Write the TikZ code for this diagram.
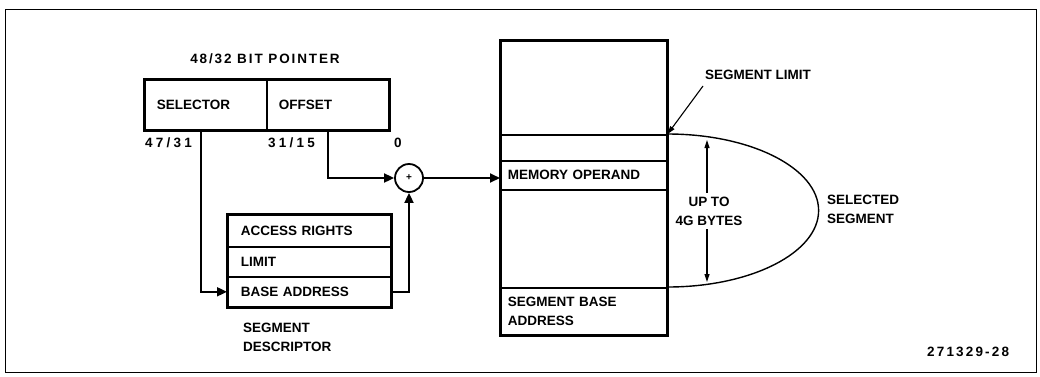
\documentclass[tikz,border=0pt]{standalone}
\usepackage{fontspec}
\setmainfont{Liberation Sans}
\usetikzlibrary{arrows.meta}
\begin{document}
\begin{tikzpicture}[x=1pt,y=-1pt,
  every node/.style={font=\bfseries\fontsize{13.5}{19}\selectfont},
  cell/.style={draw, line width=1.6pt, anchor=north west, inner ysep=0pt, align=left},
  outline/.style={line width=3pt},
  conn/.style={line width=1.8pt, -{Triangle[length=10pt,width=9pt]}},
  thinarrow/.style={line width=1.1pt, -{Triangle[length=8pt,width=5pt]}},
  lbl/.style={inner sep=0pt, anchor=west},
  wide/.style={font=\bfseries\fontsize{13.5}{19}\selectfont\addfontfeature{LetterSpace=#1}}]
\useasboundingbox (0,0) rectangle (1040,376);
\draw[line width=1pt] (5,9) rectangle (1036,372);

% pointer
\node[lbl, anchor=center, wide=14] (ptrlbl) at (265,59) {48/32 BIT POINTER};
\node[cell, minimum height=50pt, text width=98pt, inner xsep=12pt] (sel) at (144,79) {SELECTOR};
\node[cell, minimum height=50pt, text width=98pt, inner xsep=12pt] (off) at (266,79) {OFFSET};
\draw[outline] (sel.north west) rectangle (off.south east);
\node[lbl, wide=24] (b47) at (145,143) {47/31};
\node[lbl, wide=24] (b31) at (268,143) {31/15};
\node[lbl] (b0) at (394,143) {0};

% descriptor
\node[cell, minimum height=32pt, text width=137pt, inner xsep=13pt] (acc) at (227,214) {ACCESS RIGHTS};
\node[cell, minimum height=30pt, text width=137pt, inner xsep=13pt] (lim) at (227,246) {LIMIT};
\node[cell, minimum height=30pt, text width=137pt, inner xsep=13pt] (base) at (227,276) {BASE ADDRESS};
\draw[outline] (acc.north west) rectangle (base.south east);
\node[lbl, align=left, anchor=west] (desclbl) at (243,337) {SEGMENT\\DESCRIPTOR};

% adder
\node[draw, circle, line width=1.8pt, minimum size=28pt, inner sep=0pt, font=\bfseries\fontsize{10}{10}\selectfont] (plus) at (409,178) {+};

% memory
\node[cell, minimum height=94pt, text width=152pt, inner xsep=7pt] (mtop) at (500,40) {};
\node[cell, minimum height=26pt, text width=152pt, inner xsep=7pt] (mlim) at (500,134) {};
\node[cell, minimum height=29pt, text width=152pt, inner xsep=7pt] (mop) at (500,160) {MEMORY OPERAND};
\node[cell, minimum height=98pt, text width=152pt, inner xsep=7pt] (mmid) at (500,189) {};
\node[cell, minimum height=47pt, text width=152pt, inner xsep=7pt] (mbase) at (500,287) {SEGMENT BASE\\ADDRESS};
\draw[outline] (mtop.north west) rectangle (mbase.south east);

% connectors
\draw[conn] ([xshift=-5pt]sel.south) |- (base.west);
\draw[conn] (off.south) |- (plus.west);
\draw[conn] (base.east) -| (plus.south);
\draw[conn] (plus.east) -- (plus -| mop.west);

% selected segment
\draw[line width=1.4pt] (mlim.north east) arc[start angle=90, end angle=-90, x radius=151pt, y radius=76.5pt];
\node[lbl, align=left, anchor=west] (sellbl) at (827,209) {SELECTED\\SEGMENT};
\node[lbl, anchor=west] (seglim) at (705,75) {SEGMENT LIMIT};
\draw[thinarrow] (703,86) -- (mlim.north east);
\node[inner sep=0pt, align=center] (upto) at (709,211) {UP TO\\4G BYTES};
\coordinate (uptop) at (707,140);
\coordinate (upbot) at (707,282);
\draw[thinarrow] (upto.north -| uptop) ++(0,-4) -- (uptop);
\draw[thinarrow] (upto.south -| upbot) ++(0,4) -- (upbot);

\node[lbl, wide=16] (fig) at (927,352) {271329-28};
\end{tikzpicture}
\end{document}
